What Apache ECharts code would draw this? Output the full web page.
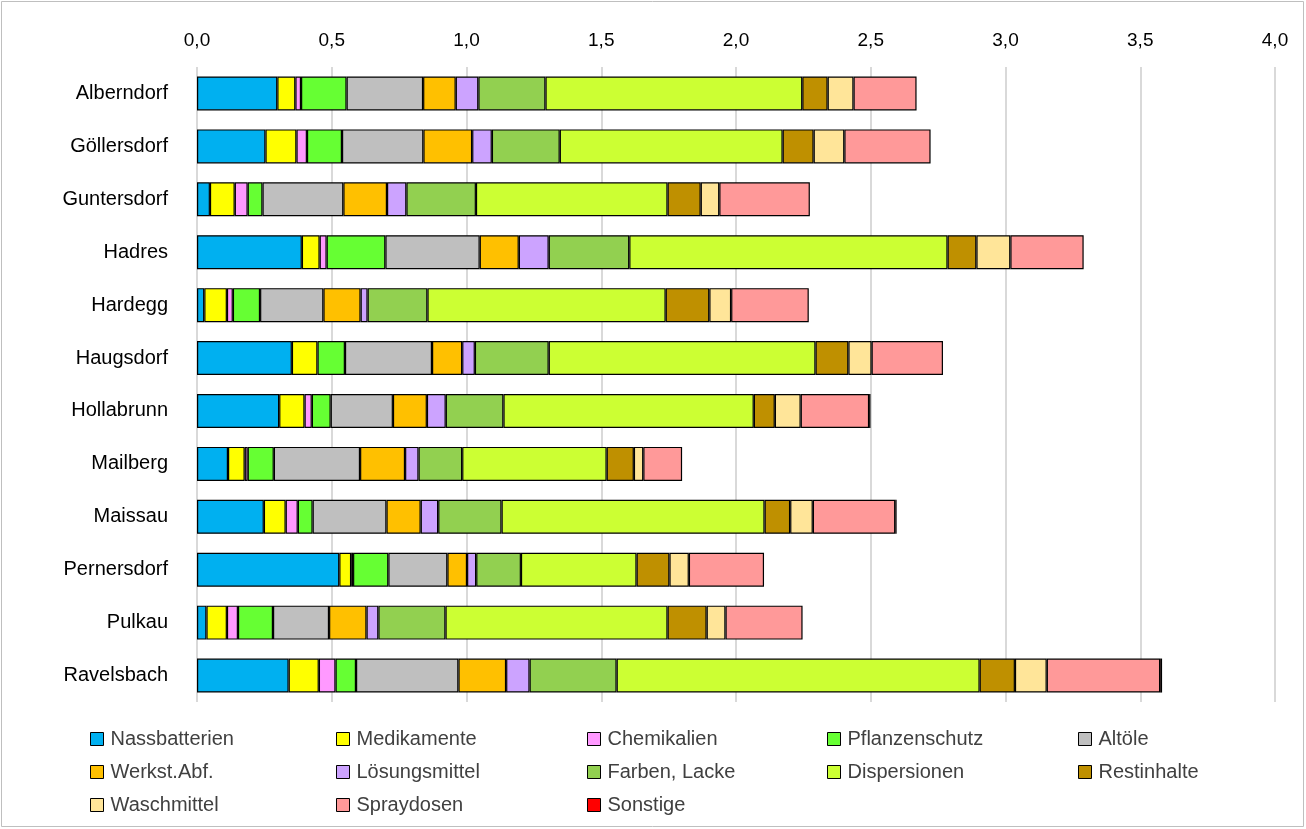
<!DOCTYPE html>
<html><head><meta charset="utf-8">
<script src="https://cdn.jsdelivr.net/npm/echarts@6/dist/echarts.min.js"></script>
<style>html,body{margin:0;padding:0;background:#fff}#c{width:1306px;height:829px}</style>
</head><body><div id="c"></div>
<script>
const categories = ["Alberndorf","Göllersdorf","Guntersdorf","Hadres","Hardegg","Haugsdorf","Hollabrunn","Mailberg","Maissau","Pernersdorf","Pulkau","Ravelsbach"];
const seriesNames = ["Nassbatterien","Medikamente","Chemikalien","Pflanzenschutz","Altöle","Werkst.Abf.","Lösungsmittel","Farben, Lacke","Dispersionen","Restinhalte","Waschmittel","Spraydosen","Sonstige"];
const colors = ["#00B0F0","#FFFF00","#FF99FF","#66FF33","#BFBFBF","#FFC000","#CCA3FF","#92D050","#CCFF33","#BF9000","#FFE599","#FF9999","#FF0000"];
const nassbatterien  = [0.298,0.254,0.048,0.389,0.027,0.352,0.305,0.115,0.248,0.528,0.035,0.340];
const medikamente    = [0.067,0.115,0.092,0.066,0.084,0.095,0.094,0.062,0.081,0.044,0.076,0.112];
const chemikalien    = [0.021,0.039,0.048,0.026,0.022,0.000,0.027,0.011,0.045,0.007,0.041,0.062];
const pflanzenschutz = [0.169,0.130,0.055,0.218,0.101,0.102,0.070,0.097,0.055,0.131,0.130,0.076];
const altoele        = [0.284,0.302,0.300,0.350,0.235,0.323,0.231,0.320,0.274,0.219,0.208,0.380];
const werkstAbf      = [0.121,0.181,0.162,0.145,0.138,0.112,0.126,0.167,0.127,0.073,0.139,0.177];
const loesungsmittel = [0.084,0.073,0.072,0.111,0.026,0.047,0.070,0.050,0.065,0.034,0.044,0.087];
const farbenLacke    = [0.249,0.252,0.258,0.299,0.222,0.274,0.214,0.162,0.235,0.166,0.249,0.323];
const dispersionen   = [0.953,0.827,0.711,1.181,0.884,0.990,0.929,0.536,0.976,0.429,0.824,1.347];
const restinhalte    = [0.094,0.115,0.123,0.107,0.162,0.122,0.078,0.101,0.095,0.122,0.145,0.131];
const waschmittel    = [0.096,0.114,0.069,0.126,0.081,0.086,0.096,0.035,0.084,0.072,0.070,0.118];
const spraydosen     = [0.234,0.320,0.336,0.272,0.288,0.265,0.254,0.144,0.306,0.279,0.286,0.421];
const sonstige       = [0,0,0,0,0,0,0.005,0,0.005,0,0,0.007];
const xTicks = {min:0, max:4, interval:0.5};
const values = [nassbatterien,medikamente,chemikalien,pflanzenschutz,altoele,werkstAbf,loesungsmittel,farbenLacke,dispersionen,restinhalte,waschmittel,spraydosen,sonstige];

const FONT = "Liberation Sans";
const chart = echarts.init(document.getElementById('c'), null, {renderer:'canvas'});
const series = seriesNames.map((n,i)=>({
  name:n, type:'bar', stack:'total', barWidth:34,
  data: values[i].map(v => v === 0 ? null : v),
  itemStyle:{color:colors[i], borderColor:'#000', borderWidth:1.2},
  emphasis:{disabled:true}
}));
const cols = [[0,5,10],[1,6,11],[2,7,12],[3,8],[4,9]];
const colX = [85,331,582,822,1073];
const legends = cols.map((idx,k)=>({
  orient:'vertical', left:colX[k], top:723, height:120, itemWidth:13, itemHeight:13, itemGap:11,
  data: idx.map(i=>({name:seriesNames[i], itemStyle:{color:colors[i], borderColor:'#000', borderWidth:1}})),
  textStyle:{fontFamily:FONT, fontSize:20, color:'#404040', lineHeight:22, padding:[0,0,0,2]},
  selectedMode:false, icon:'rect'
}));
chart.setOption({
  animation:false,
  backgroundColor:'#fff',
  textStyle:{fontFamily:FONT},
  graphic:[{type:'rect', shape:{x:1.5,y:1.5,width:1302,height:825}, style:{fill:'none', stroke:'#BFBFBF', lineWidth:1}}],
  legend: legends,
  grid:{left:197, right:31, top:67, bottom:127, containLabel:false},
  xAxis:{type:'value', position:'top', min:xTicks.min, max:xTicks.max, interval:xTicks.interval,
    axisLine:{show:false}, axisTick:{show:false},
    splitLine:{show:true, lineStyle:{color:'#D9D9D9', width:2}},
    axisLabel:{fontFamily:FONT, fontSize:19, color:'#000', margin:17,
      formatter:v=>v.toFixed(1).replace('.',',')}},
  yAxis:{type:'category', data:categories, inverse:true,
    axisLine:{show:false}, axisTick:{show:false},
    axisLabel:{fontFamily:FONT, fontSize:20, color:'#000', margin:29}},
  series
});
</script></body></html>
